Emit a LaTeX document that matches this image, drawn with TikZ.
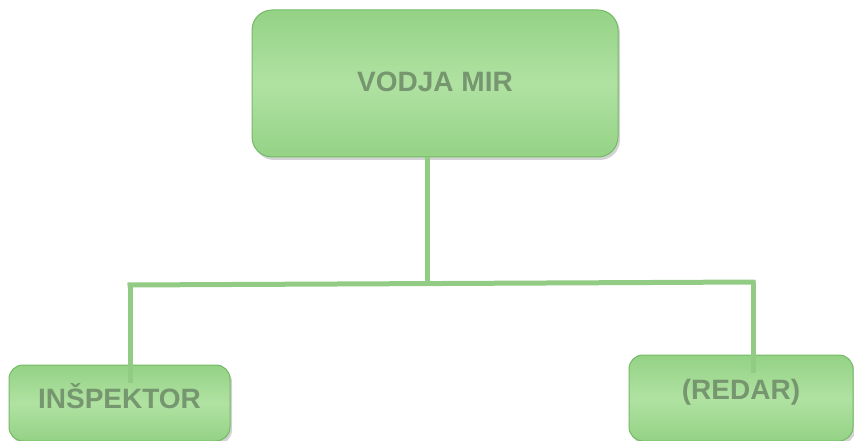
\documentclass[tikz,border=0pt]{standalone}
\usepackage{fontspec}
\setmainfont{Liberation Sans}
\usetikzlibrary{shadows}
\definecolor{boxedge}{HTML}{74BA66}
\definecolor{boxlight}{HTML}{B0E2A2}
\definecolor{boxdark}{HTML}{94D285}
\definecolor{labelgray}{HTML}{76966F}
\definecolor{linkgreen}{HTML}{92CC84}
\tikzset{rolebox/.style={draw=boxedge, line width=1pt, rounded corners=#1,
  top color=boxdark, bottom color=boxdark, middle color=boxlight,
  drop shadow={opacity=0.35, shadow xshift=2pt, shadow yshift=-3pt},
  text=labelgray, font=\bfseries\fontsize{28}{30}\selectfont, text height=20pt},
rolebox/.default={14pt},
link/.style={draw=linkgreen, line width=5pt}}

\begin{document}
\begin{tikzpicture}[x=1pt,y=-1pt]

\useasboundingbox (0,0) rectangle (854,441);
\clip (0,0) rectangle (854,441);

\node[rolebox=20pt, minimum width=366pt, minimum height=147pt, text depth=3pt] (vodja) at (435,83.5) {VODJA MIR};
\node[rolebox, minimum width=221pt, minimum height=76pt, text depth=10pt] (insp) at (119.5,403) {INŠPEKTOR};
\node[rolebox, minimum width=224pt, minimum height=86pt, text depth=18pt] (redar) at (741,398) {(REDAR)};

\coordinate (jM) at (427,283);
\coordinate (jL) at (130,285);
\coordinate (jR) at (753,282);
\coordinate (eL) at (130,383);
\coordinate (eR) at (753,373);

\draw[link] (vodja.south -| jM) -- (jM);
\draw[link] ([xshift=-2.5pt]jL) -- ([xshift=2.5pt]jR);
\draw[link] (jL) -- (eL);
\draw[link] (jR) -- (eR);

\end{tikzpicture}
\end{document}
